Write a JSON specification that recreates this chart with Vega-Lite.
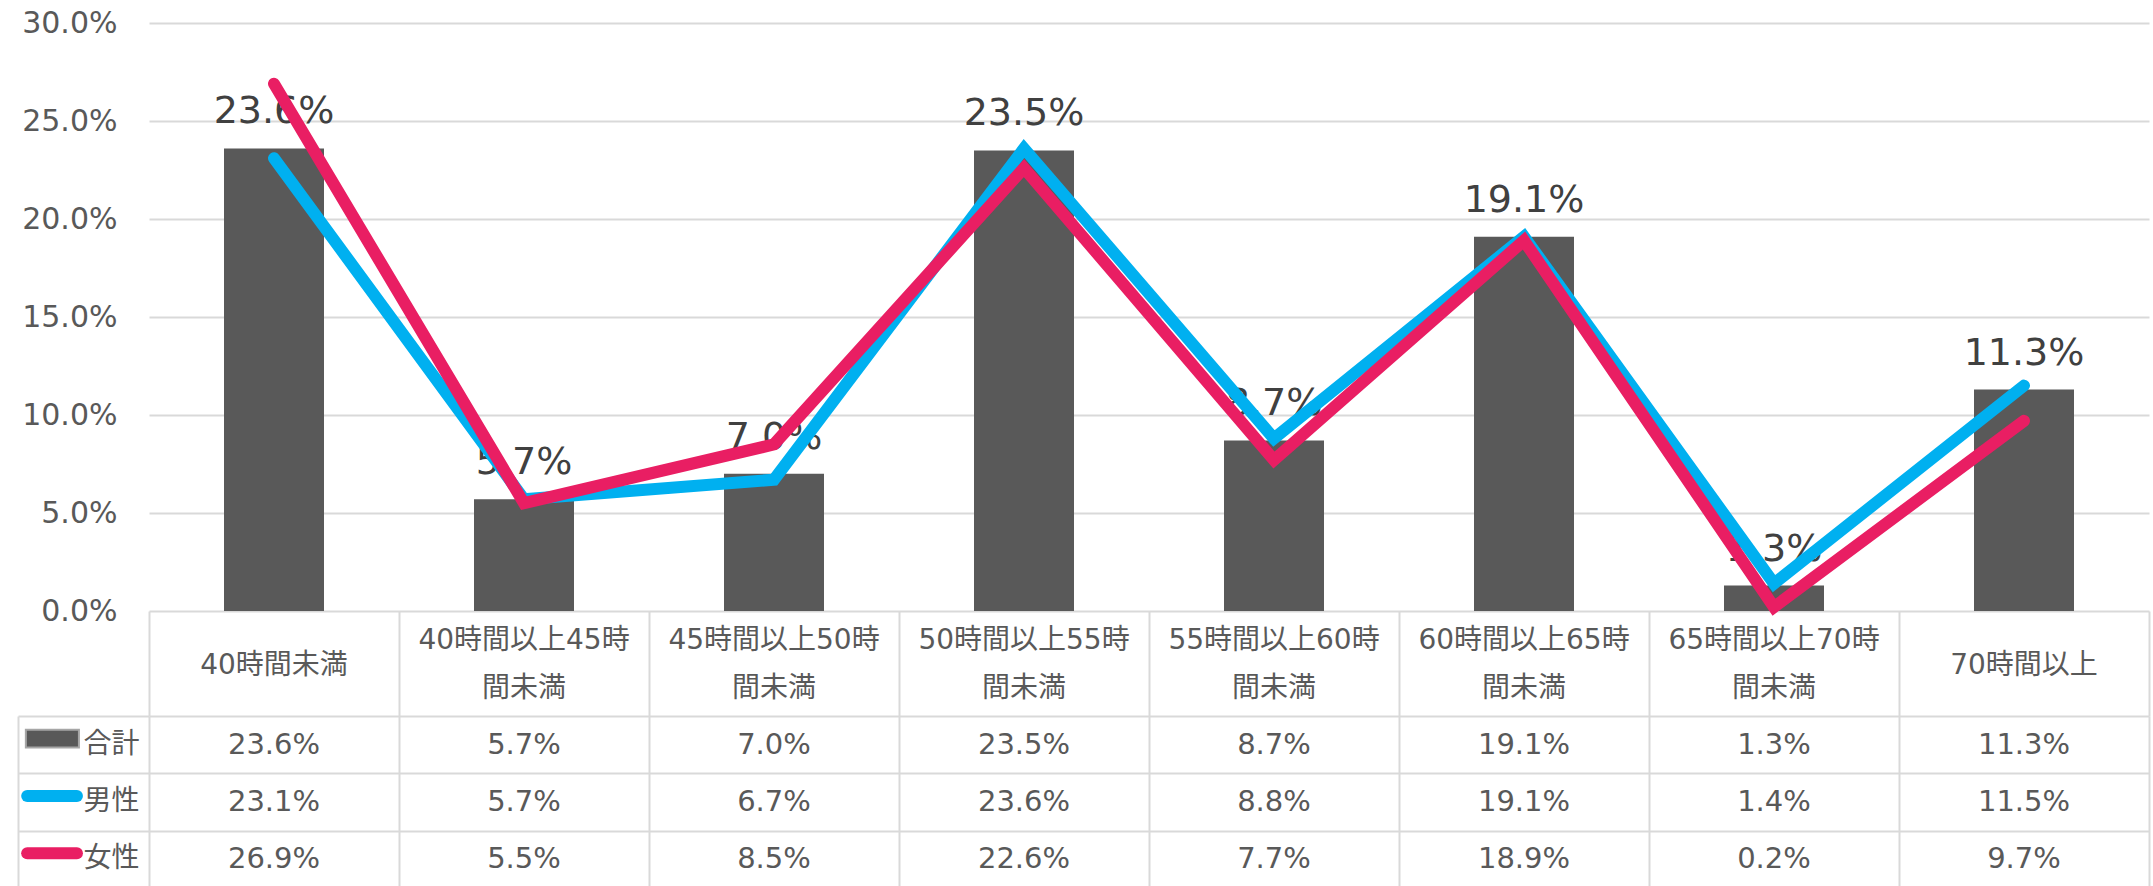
{
  "$schema": "https://vega.github.io/schema/vega-lite/v6.json",
  "background": "white",
  "padding": {"left": 18, "top": 8, "right": 2, "bottom": 0},
  "config": {
    "view": {"stroke": null},
    "font": "DejaVu Sans, Noto Sans CJK JP",
    "text": {"font": "DejaVu Sans, Noto Sans CJK JP"},
    "axis": {"labelFont": "DejaVu Sans, Noto Sans CJK JP", "gridColor": "#d9d9d9", "gridWidth": 2}
  },
  "datasets": {
    "vals": [
      {"cat": "40時間未満", "series": "合計", "value": 0.236},
      {"cat": "40時間以上45時間未満", "series": "合計", "value": 0.057},
      {"cat": "45時間以上50時間未満", "series": "合計", "value": 0.070},
      {"cat": "50時間以上55時間未満", "series": "合計", "value": 0.235},
      {"cat": "55時間以上60時間未満", "series": "合計", "value": 0.087},
      {"cat": "60時間以上65時間未満", "series": "合計", "value": 0.191},
      {"cat": "65時間以上70時間未満", "series": "合計", "value": 0.013},
      {"cat": "70時間以上", "series": "合計", "value": 0.113},
      {"cat": "40時間未満", "series": "男性", "value": 0.231},
      {"cat": "40時間以上45時間未満", "series": "男性", "value": 0.057},
      {"cat": "45時間以上50時間未満", "series": "男性", "value": 0.067},
      {"cat": "50時間以上55時間未満", "series": "男性", "value": 0.236},
      {"cat": "55時間以上60時間未満", "series": "男性", "value": 0.088},
      {"cat": "60時間以上65時間未満", "series": "男性", "value": 0.191},
      {"cat": "65時間以上70時間未満", "series": "男性", "value": 0.014},
      {"cat": "70時間以上", "series": "男性", "value": 0.115},
      {"cat": "40時間未満", "series": "女性", "value": 0.269},
      {"cat": "40時間以上45時間未満", "series": "女性", "value": 0.055},
      {"cat": "45時間以上50時間未満", "series": "女性", "value": 0.085},
      {"cat": "50時間以上55時間未満", "series": "女性", "value": 0.226},
      {"cat": "55時間以上60時間未満", "series": "女性", "value": 0.077},
      {"cat": "60時間以上65時間未満", "series": "女性", "value": 0.189},
      {"cat": "65時間以上70時間未満", "series": "女性", "value": 0.002},
      {"cat": "70時間以上", "series": "女性", "value": 0.097}
    ],
    "cats": [
      {"cat": "40時間未満", "label": "40時間未満"},
      {"cat": "40時間以上45時間未満", "label": "40時間以上45時\n間未満"},
      {"cat": "45時間以上50時間未満", "label": "45時間以上50時\n間未満"},
      {"cat": "50時間以上55時間未満", "label": "50時間以上55時\n間未満"},
      {"cat": "55時間以上60時間未満", "label": "55時間以上60時\n間未満"},
      {"cat": "60時間以上65時間未満", "label": "60時間以上65時\n間未満"},
      {"cat": "65時間以上70時間未満", "label": "65時間以上70時\n間未満"},
      {"cat": "70時間以上", "label": "70時間以上"}
    ],
    "series": [
      {"series": "合計"},
      {"series": "男性"},
      {"series": "女性"}
    ]
  },
  "columns": 2,
  "spacing": 0,
  "bounds": "flush",
  "concat": [
    {
      "width": 131, "height": 588,
      "data": {"values": [{"a": 1}]},
      "mark": {"type": "text", "text": ""},
      "encoding": {}
    },
    {
      "width": 2000, "height": 588,
      "data": {"name": "vals"},
      "encoding": {
        "x": {"field": "cat", "type": "nominal", "sort": null, "scale": {"paddingInner": 0, "paddingOuter": 0}, "axis": null}
      },
      "layer": [
        {
          "transform": [{"filter": "datum.series === '合計'"}],
          "mark": {"type": "bar", "width": {"band": 0.4}, "color": "#595959"},
          "encoding": {
            "y": {"field": "value", "type": "quantitative", "scale": {"domain": [0, 0.3]},
              "axis": {"values": [0, 0.05, 0.1, 0.15, 0.2, 0.25, 0.3], "format": ".1%", "title": null, "domain": false, "ticks": false,
                "labelPadding": 32, "labelFontSize": 30, "labelColor": "#595959", "grid": true}}
          }
        },
        {
          "transform": [{"filter": "datum.series === '合計'"}],
          "mark": {"type": "text", "fontSize": 38, "color": "#404040", "baseline": "alphabetic", "dy": -25},
          "encoding": {
            "y": {"field": "value", "type": "quantitative"},
            "text": {"field": "value", "type": "quantitative", "format": ".1%"}
          }
        },
        {
          "transform": [{"filter": "datum.series === '男性'"}],
          "mark": {"type": "line", "strokeWidth": 12, "strokeCap": "round", "strokeJoin": "miter", "color": "#00B0F0"},
          "encoding": {"y": {"field": "value", "type": "quantitative"}}
        },
        {
          "transform": [{"filter": "datum.series === '女性'"}],
          "mark": {"type": "line", "strokeWidth": 12, "strokeCap": "round", "strokeJoin": "miter", "color": "#E91E63"},
          "encoding": {"y": {"field": "value", "type": "quantitative"}}
        }
      ]
    },
    {
      "width": 131, "height": 105,
      "data": {"values": [{"a": 1}]},
      "mark": {"type": "text", "text": ""},
      "encoding": {}
    },
    {
      "width": 2000, "height": 105,
      "data": {"name": "cats"},
      "encoding": {
        "x": {"field": "cat", "type": "nominal",
          "sort": ["40時間未満", "40時間以上45時間未満", "45時間以上50時間未満", "50時間以上55時間未満", "55時間以上60時間未満", "60時間以上65時間未満", "65時間以上70時間未満", "70時間以上"],
          "scale": {"paddingInner": 0, "paddingOuter": 0},
          "axis": {"tickBand": "extent", "grid": true, "labels": false, "ticks": false, "domain": false, "title": null}},
        "text": {"field": "label"}
      },
      "layer": [
        {
          "transform": [{"filter": "datum.label === datum.cat"}],
          "mark": {"type": "text", "fontSize": 28, "color": "#595959", "baseline": "middle", "dy": 2}
        },
        {
          "transform": [{"filter": "datum.label !== datum.cat"}],
          "mark": {"type": "text", "fontSize": 28, "lineBreak": "\n", "lineHeight": 48, "color": "#595959", "baseline": "middle", "dy": -23}
        }
      ]
    },
    {
      "width": 131, "height": 172,
      "data": {"name": "series"},
      "encoding": {
        "y": {"field": "series", "type": "nominal", "sort": ["合計", "男性", "女性"], "scale": {"paddingInner": 0, "paddingOuter": 0},
          "axis": {"tickBand": "extent", "grid": true, "labels": false, "ticks": false, "domain": false, "title": null}}
      },
      "layer": [
        {
          "transform": [{"filter": "datum.series === '合計'"}],
          "mark": {"type": "bar", "height": {"band": 0.31}, "color": "#595959", "stroke": "#a6a6a6", "strokeWidth": 2, "yOffset": -6},
          "encoding": {
            "x": {"datum": 0.06, "type": "quantitative", "scale": {"domain": [0, 1]},
              "axis": {"values": [0], "grid": true, "labels": false, "ticks": false, "domain": false, "title": null}},
            "x2": {"datum": 0.465}
          }
        },
        {
          "transform": [{"filter": "datum.series === '男性'"}],
          "mark": {"type": "rule", "strokeWidth": 12, "strokeCap": "round", "color": "#00B0F0", "yOffset": -6},
          "encoding": {"x": {"datum": 0.07, "type": "quantitative"}, "x2": {"datum": 0.45}}
        },
        {
          "transform": [{"filter": "datum.series === '女性'"}],
          "mark": {"type": "rule", "strokeWidth": 12, "strokeCap": "round", "color": "#E91E63", "yOffset": -6},
          "encoding": {"x": {"datum": 0.07, "type": "quantitative"}, "x2": {"datum": 0.45}}
        },
        {
          "mark": {"type": "text", "align": "left", "fontSize": 28, "color": "#595959", "baseline": "middle"},
          "encoding": {"x": {"datum": 0.5, "type": "quantitative"}, "text": {"field": "series"}}
        }
      ]
    },
    {
      "width": 2000, "height": 172,
      "data": {"name": "vals"},
      "mark": {"type": "text", "fontSize": 29, "color": "#595959", "baseline": "middle"},
      "encoding": {
        "x": {"field": "cat", "type": "nominal", "sort": null, "scale": {"paddingInner": 0, "paddingOuter": 0},
          "axis": {"tickBand": "extent", "grid": true, "labels": false, "ticks": false, "domain": false, "title": null}},
        "y": {"field": "series", "type": "nominal", "sort": ["合計", "男性", "女性"], "scale": {"paddingInner": 0, "paddingOuter": 0},
          "axis": {"tickBand": "extent", "grid": true, "labels": false, "ticks": false, "domain": false, "title": null}},
        "text": {"field": "value", "type": "quantitative", "format": ".1%"}
      }
    }
  ]
}
